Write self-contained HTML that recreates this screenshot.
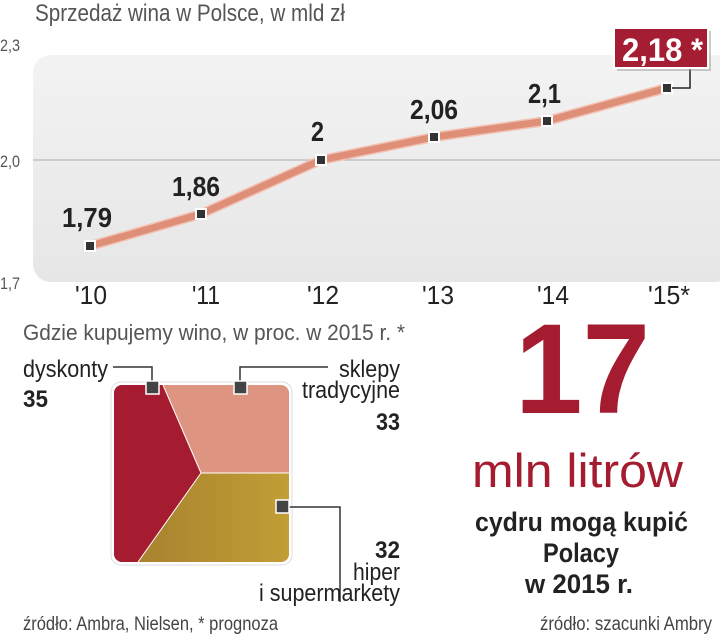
<!DOCTYPE html>
<html><head><meta charset="utf-8"><style>
html,body{margin:0;padding:0;background:#fff;}
svg{display:block;font-family:"Liberation Sans Narrow","Liberation Sans",sans-serif;}
</style></head><body>
<svg width="720" height="636" viewBox="0 0 720 636">
<defs>
<linearGradient id="bg" x1="0" y1="0" x2="0" y2="1"><stop offset="0" stop-color="#f3f3f3"/><stop offset="1" stop-color="#e6e6e6"/></linearGradient>
<linearGradient id="gold" x1="0" y1="0" x2="1" y2="0"><stop offset="0" stop-color="#a8822e"/><stop offset="1" stop-color="#c29e36"/></linearGradient>
</defs>
<text x="35" y="21" font-size="24" fill="#555" textLength="310" lengthAdjust="spacingAndGlyphs">Sprzedaż wina w Polsce, w mld zł</text>
<rect x="33" y="55" width="700" height="227" rx="18" fill="url(#bg)"/>
<line x1="33" y1="160" x2="720" y2="160" stroke="#aaa" stroke-width="1"/>
<g font-size="17" fill="#555">
<text x="0" y="51" textLength="20" lengthAdjust="spacingAndGlyphs">2,3</text><text x="0" y="167" textLength="20" lengthAdjust="spacingAndGlyphs">2,0</text><text x="0" y="289" textLength="20" lengthAdjust="spacingAndGlyphs">1,7</text>
</g>
<polyline points="90,246 201,214 321,160 434,137 547,121 667,88" fill="none" stroke="#f2c2b4" stroke-width="10" stroke-linejoin="round"/>
<polyline points="90,246 201,214 321,160 434,137 547,121 667,88" fill="none" stroke="#df8f78" stroke-width="7" stroke-linejoin="round"/>
<g fill="#333" stroke="#fff" stroke-width="2">
<rect x="85" y="241" width="10" height="10"/><rect x="196" y="209" width="10" height="10"/><rect x="316" y="155" width="10" height="10"/><rect x="429" y="132" width="10" height="10"/><rect x="542" y="116" width="10" height="10"/><rect x="662" y="83" width="10" height="10"/>
</g>
<polyline points="672,88 690,88 690,68" fill="none" stroke="#222" stroke-width="1.5"/>
<rect x="617" y="31" width="94" height="40" fill="#999" opacity="0.5"/>
<rect x="614" y="28" width="94" height="40" fill="#a51d32" stroke="#fff" stroke-width="2"/>
<text x="622" y="61" font-size="32" font-weight="bold" fill="#fff" textLength="81" lengthAdjust="spacingAndGlyphs">2,18 *</text>
<g font-size="28" font-weight="bold" fill="#222">
<text x="62" y="227" textLength="50" lengthAdjust="spacingAndGlyphs">1,79</text>
<text x="172" y="196" textLength="48" lengthAdjust="spacingAndGlyphs">1,86</text>
<text x="311" y="141" textLength="13" lengthAdjust="spacingAndGlyphs">2</text>
<text x="410" y="119" textLength="48" lengthAdjust="spacingAndGlyphs">2,06</text>
<text x="528" y="103" textLength="33" lengthAdjust="spacingAndGlyphs">2,1</text>
</g>
<g font-size="26" fill="#222">
<text x="75" y="304" textLength="32" lengthAdjust="spacingAndGlyphs">'10</text>
<text x="192" y="304" textLength="28" lengthAdjust="spacingAndGlyphs">'11</text>
<text x="307" y="304" textLength="32" lengthAdjust="spacingAndGlyphs">'12</text>
<text x="422" y="304" textLength="32" lengthAdjust="spacingAndGlyphs">'13</text>
<text x="537" y="304" textLength="32" lengthAdjust="spacingAndGlyphs">'14</text>
<text x="648" y="304" textLength="42" lengthAdjust="spacingAndGlyphs">'15*</text>
</g>
<text x="23" y="340" font-size="22" fill="#555" textLength="382" lengthAdjust="spacingAndGlyphs">Gdzie kupujemy wino, w proc. w 2015 r. *</text>
<rect x="111" y="382" width="181" height="183" rx="10" fill="#fff" stroke="#ddd"/>
<clipPath id="cp"><rect x="114" y="385" width="175" height="177" rx="8"/></clipPath>
<g clip-path="url(#cp)">
<rect x="114" y="385" width="175" height="177" fill="#dd9480"/>
<polygon points="201,473 289,473 289,562 138,562" fill="url(#gold)"/>
<polygon points="114,385 163,385 201,473 138,562 114,562" fill="#a51c30"/>
<polyline points="163,385 201,473 138,562" fill="none" stroke="#fff" stroke-width="1"/>
<line x1="201" y1="473" x2="289" y2="473" stroke="#fff" stroke-width="1"/>
</g>
<g fill="none" stroke="#333" stroke-width="1.5">
<polyline points="113,367 152,367 152,383"/>
<polyline points="240,383 240,367 328,367"/>
<polyline points="288,507 340,507 340,602"/>
</g>
<g fill="#444" stroke="#fff" stroke-width="1.5">
<rect x="146" y="381" width="13" height="13"/><rect x="234" y="381" width="13" height="13"/><rect x="276" y="500" width="13" height="13"/>
</g>
<g font-size="24" fill="#222">
<text x="23" y="377" textLength="85" lengthAdjust="spacingAndGlyphs">dyskonty</text>
<text x="23" y="407" font-weight="bold" textLength="25" lengthAdjust="spacingAndGlyphs">35</text>
<text x="339" y="377" textLength="61" lengthAdjust="spacingAndGlyphs">sklepy</text>
<text x="302" y="398" textLength="98" lengthAdjust="spacingAndGlyphs">tradycyjne</text>
<text x="376" y="430" font-weight="bold" textLength="24" lengthAdjust="spacingAndGlyphs">33</text>
<text x="375" y="558" font-weight="bold" textLength="25" lengthAdjust="spacingAndGlyphs">32</text>
<text x="353" y="580" textLength="47" lengthAdjust="spacingAndGlyphs">hiper</text>
<text x="259" y="601" textLength="141" lengthAdjust="spacingAndGlyphs">i supermarkety</text>
</g>
<g font-size="19" fill="#444">
<text x="23" y="630" textLength="255" lengthAdjust="spacingAndGlyphs">źródło: Ambra, Nielsen, * prognoza</text>
<text x="540" y="630" textLength="172" lengthAdjust="spacingAndGlyphs">źródło: szacunki Ambry</text>
</g>
<g fill="#a51c30">
<text x="515" y="413" font-size="128" font-weight="bold" textLength="135" lengthAdjust="spacingAndGlyphs">17</text>
<text x="472" y="487" font-size="47" textLength="211" lengthAdjust="spacingAndGlyphs">mln litrów</text>
</g>
<g fill="#222" font-size="27" font-weight="bold">
<text x="475" y="531" textLength="213" lengthAdjust="spacingAndGlyphs">cydru mogą kupić</text>
<text x="543" y="562" textLength="76" lengthAdjust="spacingAndGlyphs">Polacy</text>
<text x="525" y="593" textLength="108" lengthAdjust="spacingAndGlyphs">w 2015 r.</text>
</g>
</svg>
</body></html>
